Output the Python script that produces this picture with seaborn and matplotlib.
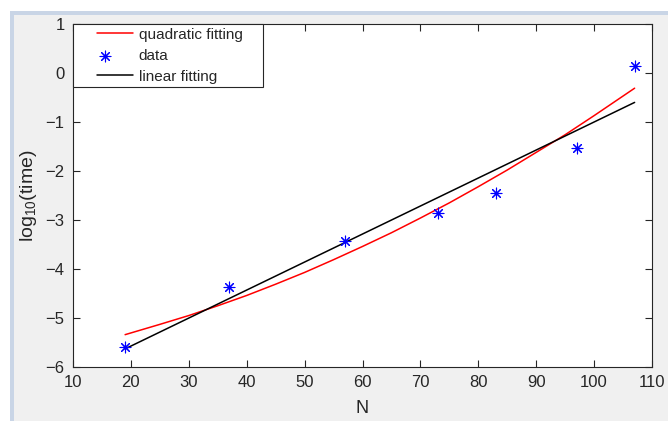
import numpy as np
import pandas as pd
import matplotlib
matplotlib.use("Agg")
import matplotlib.pyplot as plt
import seaborn as sns
from matplotlib.patches import Rectangle
from matplotlib.legend_handler import HandlerLine2D, HandlerPathCollection

# data points
n_data = [19, 37, 57, 73, 83, 97, 107]
logt_data = [-5.60, -4.36, -3.42, -2.86, -2.44, -1.54, 0.14]

n_quad = [19, 25, 30, 35, 40, 45, 50, 55, 60, 65, 70, 75, 80, 85, 90, 95, 100, 107]
logt_quad = [-5.34, -5.13, -4.95, -4.75, -4.54, -4.31, -4.07, -3.81, -3.54,
             -3.26, -2.96, -2.65, -2.32, -1.98, -1.62, -1.26, -0.87, -0.31]

# linear fitting line endpoints
n_lin = [19, 107]
logt_lin = [-5.63, -0.60]

x_ticks = [10, 20, 30, 40, 50, 60, 70, 80, 90, 100, 110]
y_ticks = [-6, -5, -4, -3, -2, -1, 0, 1]

df_data = pd.DataFrame({'N': n_data, 'logt': logt_data})
df_quad = pd.DataFrame({'N': n_quad, 'logt': logt_quad})
df_lin = pd.DataFrame({'N': n_lin, 'logt': logt_lin})

sns.set_style("ticks")
plt.rcParams['font.family'] = ['Liberation Sans', 'DejaVu Sans']
plt.rcParams['mathtext.fontset'] = 'custom'
plt.rcParams['mathtext.rm'] = 'Liberation Sans'
plt.rcParams['mathtext.it'] = 'Liberation Sans'

W, H = 668, 421
fig = plt.figure(figsize=(W / 100, H / 100), dpi=100, facecolor='white')

# window frame like the MATLAB figure
fig.patches.append(Rectangle((10 / W, 0), 1, (H - 11) / H, transform=fig.transFigure,
                             facecolor='#c9d5e6', edgecolor='none', zorder=-2))
fig.patches.append(Rectangle((14 / W, 0), 1, (H - 15) / H, transform=fig.transFigure,
                             facecolor='#f0f0f0', edgecolor='none', zorder=-1))

ax = fig.add_axes([73 / W, (H - 367) / H, (652 - 73) / W, (367 - 24) / H])
ax.set_facecolor('white')

# trailing spaces give the MATLAB-like right padding of the legend box
sns.lineplot(data=df_quad, x='N', y='logt', ax=ax, color='red', linewidth=1.1,
             label='quadratic fitting    ', sort=False)
sns.scatterplot(data=df_data, x='N', y='logt', ax=ax, color='blue', marker=(8, 2, 0),
                s=60, linewidth=0.8, edgecolor='blue', label='data', zorder=3)
sns.lineplot(data=df_lin, x='N', y='logt', ax=ax, color='black', linewidth=1.1,
             label='linear fitting', sort=False)

ax.set_xlim(10, 110)
ax.set_ylim(-6, 1)
ax.set_xticks(x_ticks)
ax.set_yticks(y_ticks)
ax.tick_params(direction='in', length=5, width=0.8, top=True, right=True,
               labelsize=12, labelcolor='#262626', color='#262626', pad=6)
for s in ax.spines.values():
    s.set_visible(True)
    s.set_color('#262626')
    s.set_linewidth(0.8)

ax.set_xlabel('N', fontsize=13, color='#262626', labelpad=7)
ax.set_ylabel(r'log$_{10}$(time)', fontsize=14, color='#262626', labelpad=5)

hmap = {
    ax.lines[0]: HandlerLine2D(xpad=1.3),
    ax.lines[1]: HandlerLine2D(xpad=1.3),
    ax.collections[0]: HandlerPathCollection(xpad=1.3),
}
leg = ax.legend(loc='upper left', fontsize=11, frameon=True, fancybox=False,
                borderaxespad=0, borderpad=0.25, labelspacing=0.45,
                handlelength=3.7, handletextpad=0.35, edgecolor='#262626',
                framealpha=1, handler_map=hmap)
leg.get_frame().set_linewidth(0.8)

fig.savefig('out.png', dpi=100, facecolor=fig.get_facecolor())
